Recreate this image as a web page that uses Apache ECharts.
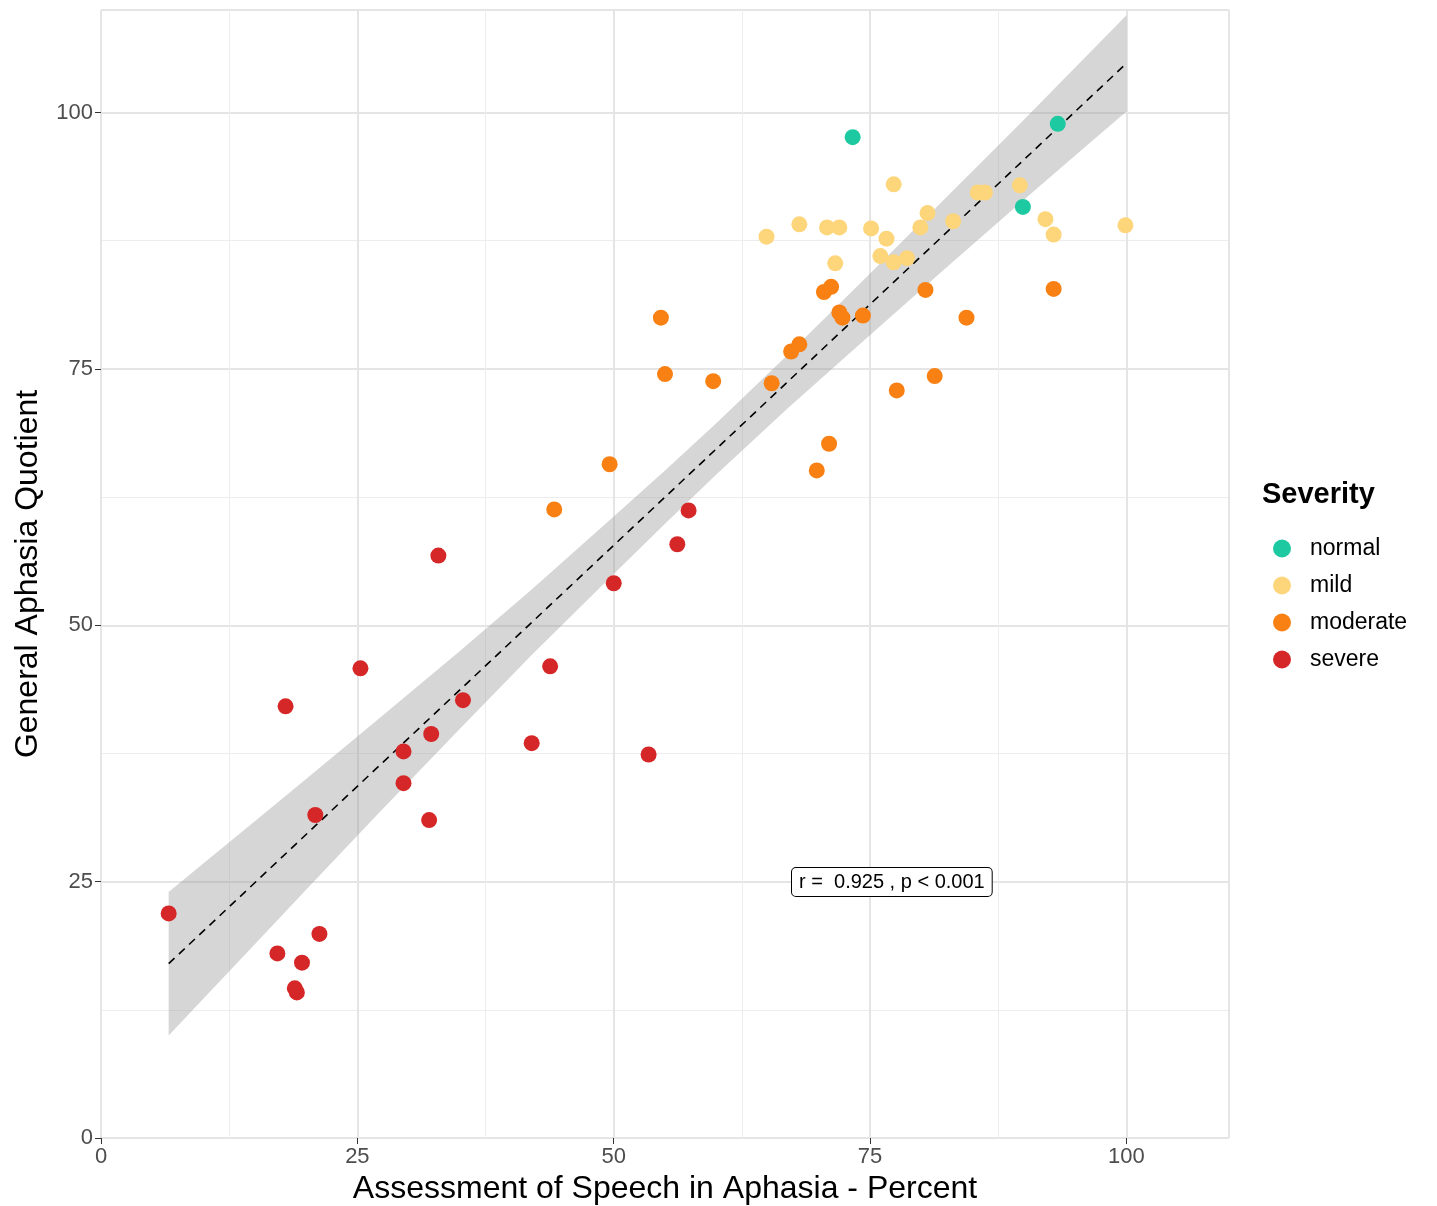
<!DOCTYPE html>
<html><head><meta charset="utf-8">
<script src="https://cdn.jsdelivr.net/npm/echarts@6/dist/echarts.min.js"></script>
<style>html,body{margin:0;background:#fff}#c{width:1437px;height:1206px}</style>
</head><body><div id="c"></div>
<script>
// points per severity group: [ASA %, AQ]
const normalPts = [[73.3,97.6],[93.3,98.9],[89.9,90.8]];
const mildPts = [[64.9,87.9],[68.1,89.1],[70.8,88.8],[72.0,88.8],[71.6,85.3],[77.3,93.0],[75.1,88.7],
  [76.6,87.7],[76.0,86.0],[77.3,85.4],[78.6,85.8],[79.9,88.8],[80.6,90.2],[83.1,89.4],[85.5,92.2],
  [86.2,92.2],[89.6,92.9],[92.1,89.6],[92.9,88.1],[99.9,89.0]];
const moderatePts = [[54.6,80.0],[55.0,74.5],[59.7,73.8],[65.4,73.6],[67.3,76.7],[68.1,77.4],[70.5,82.5],
  [71.2,83.0],[72.0,80.5],[72.3,80.0],[74.3,80.2],[80.4,82.7],[84.4,80.0],[92.9,82.8],[81.3,74.3],
  [77.6,72.9],[71.0,67.7],[69.8,65.1],[49.6,65.7],[44.2,61.3]];
const severePts = [[57.3,61.2],[56.2,57.9],[50.0,54.1],[32.9,56.8],[43.8,46.0],[35.3,42.7],[25.3,45.8],
  [18.0,42.1],[32.2,39.4],[42.0,38.5],[53.4,37.4],[29.5,37.7],[29.5,34.6],[32.0,31.0],[20.9,31.5],
  [6.6,21.9],[21.3,19.9],[17.2,18.0],[19.6,17.1],[18.9,14.6],[19.1,14.2]];

// fitted line and confidence band
const bandX    = [6.6, 10, 15, 20, 27, 35, 42, 50, 55, 60, 67, 75, 82, 90, 95, 100];
const bandLow  = [10.0, 13.6, 18.9, 24.2, 31.6, 39.9, 47.1, 55.0, 59.9, 64.7, 71.2, 78.3, 84.5, 91.5, 95.8, 100.1];
const bandHigh = [24.0, 26.8, 30.9, 35.0, 40.8, 47.5, 53.5, 60.6, 65.1, 69.7, 76.4, 84.3, 91.3, 99.3, 104.4, 109.5];
const fitLine = [[6.6,17.0],[100,104.8]];

const groups = ['normal','mild','moderate','severe'];
const colors = ['#1DC9A0','#FDD57A','#F98012','#D62728'];
const groupData = [normalPts, mildPts, moderatePts, severePts];

const chart = echarts.init(document.getElementById('c'));
const txt = '#4D4D4D';
function axis(name, gap){
  return {
    type:'value', min:0, max:110, interval:25, name:name, nameLocation:'middle', nameGap:gap,
    nameTextStyle:{fontSize:32, color:'#000', fontFamily:'Liberation Sans'},
    axisLine:{show:false}, axisTick:{show:true, length:6, lineStyle:{color:'#333'}},
    axisLabel:{fontSize:22, color:txt, showMaxLabel:false, fontFamily:'Liberation Sans', margin:8},
    splitLine:{lineStyle:{color:'#E5E5E5', width:2}},
    minorTick:{show:false, splitNumber:2}, minorSplitLine:{show:true, lineStyle:{color:'#EDEDED', width:1}}
  };
}
const bandPoly = bandX.map((x,i)=>[x,bandHigh[i]]).concat(bandX.map((x,i)=>[x,bandLow[i]]).reverse());

chart.setOption({
  animation:false,
  grid:{left:101, right:208, top:10, bottom:68, outerBoundsMode:'none', containLabel:false,
    show:true, borderColor:'#333', borderWidth:1, backgroundColor:'transparent'},
  xAxis: axis('Assessment of Speech in Aphasia - Percent', 22),
  yAxis: axis('General Aphasia Quotient', 57),
  legend:{orient:'vertical', left:1268, top:532, itemGap:14, itemWidth:18, itemHeight:18,
    data:groups.map(g=>({name:g, icon:'circle'})),
    textStyle:{fontSize:23, color:'#000', fontFamily:'Liberation Sans', padding:[0,0,0,14]}},
  graphic:[
    {type:'text', left:1262, top:480, style:{text:'Severity', fontSize:29, fontWeight:'bold', fill:'#000', fontFamily:'Liberation Sans'}},
    {type:'text', left:791, top:867, z:100, style:{text:'r =  0.925 , p < 0.001', fontSize:20, fill:'#000', fontFamily:'Liberation Sans',
      backgroundColor:'#fff', borderColor:'#000', borderWidth:1, borderRadius:4, padding:[4,7]}}
  ],
  series:[
    {type:'custom', silent:true, z:1, data:[0],
      renderItem:(p,api)=>({type:'polygon', shape:{points:bandPoly.map(d=>api.coord(d))},
        style:{fill:'rgba(153,153,153,0.4)'}})},
    {type:'line', data:fitLine, symbol:'none', z:2, lineStyle:{color:'#000', type:[8,6], width:1.6}},
  ].concat(groups.map((g,i)=>({name:g, type:'scatter', z:3, data:groupData[i], symbolSize:16,
    itemStyle:{color:colors[i], opacity:1}})))
});
</script></body></html>
